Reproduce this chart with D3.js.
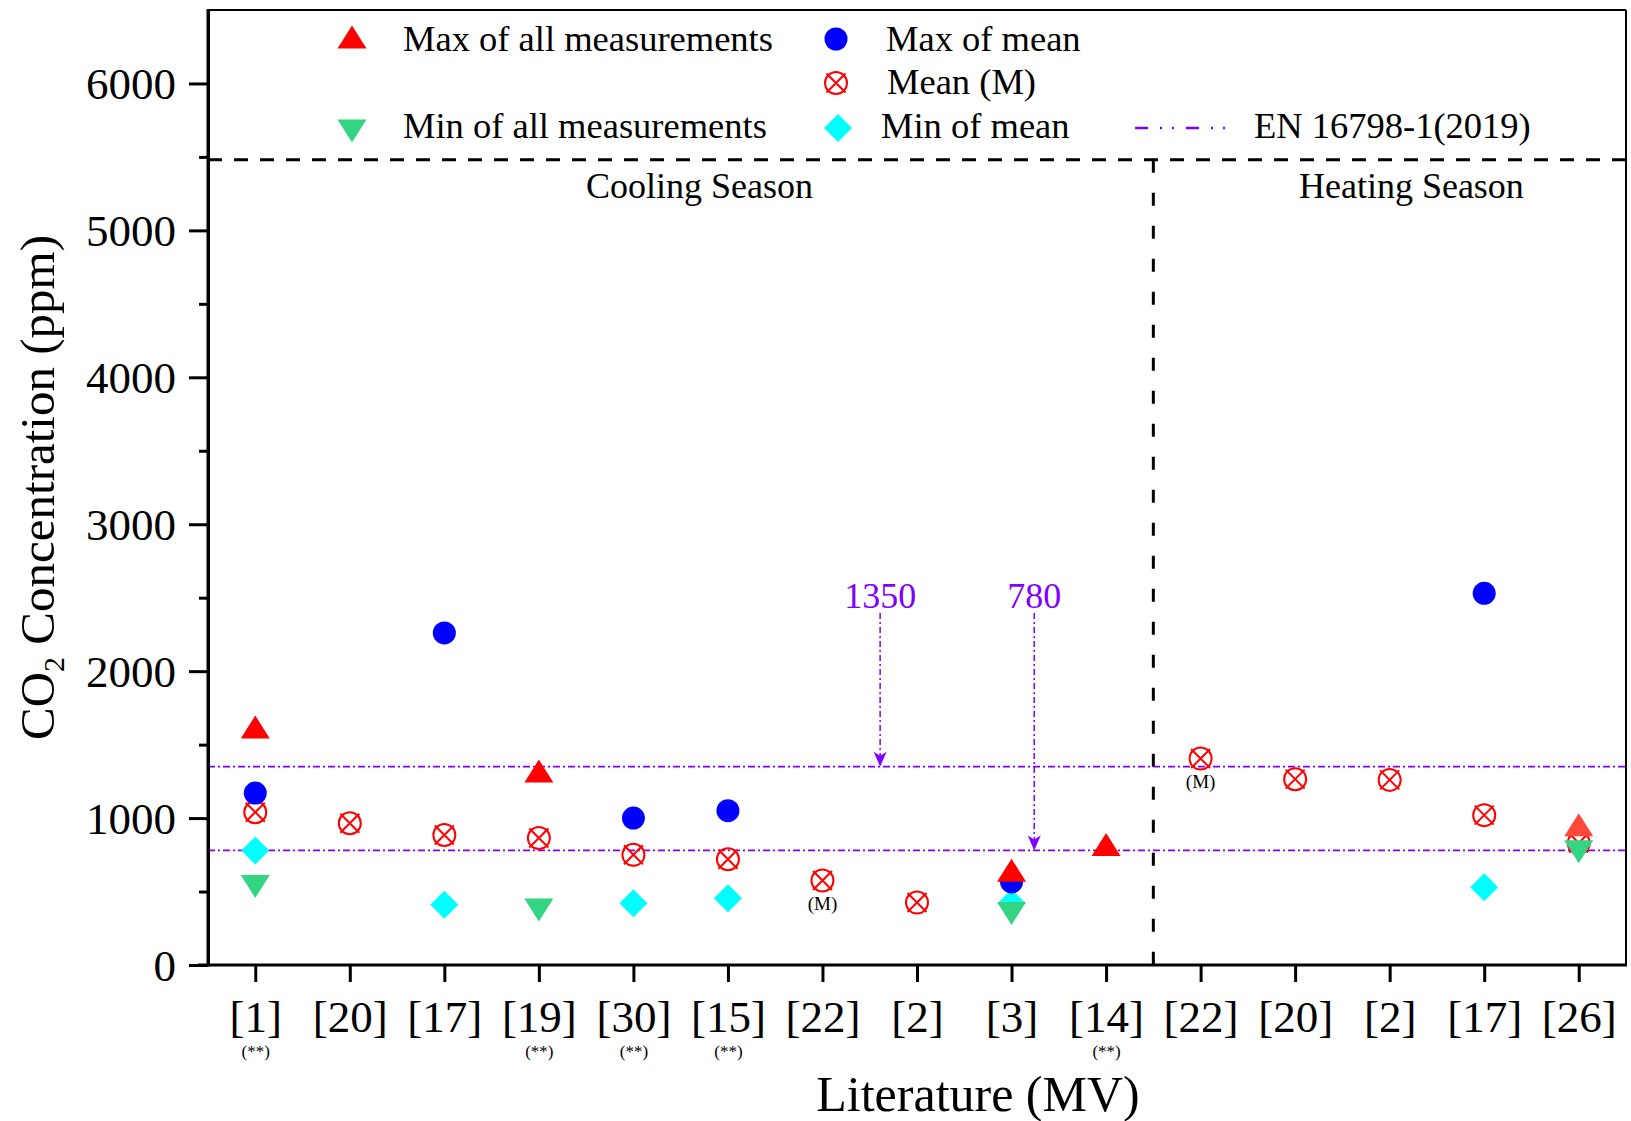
<!DOCTYPE html>
<html>
<head>
<meta charset="utf-8">
<script src="https://cdn.jsdelivr.net/npm/d3@7"></script>
<style>
  body { margin: 0; background: #fff; }
  text { font-family: "Liberation Serif", "Times New Roman", serif; }
</style>
</head>
<body>
<div id="chart"></div>
<script>
"use strict"

// ---- data ----
const categories = ["[1]", "[20]", "[17]", "[19]", "[30]", "[15]", "[22]", "[2]", "[3]", "[14]",
                    "[22]", "[20]", "[2]", "[17]", "[26]"];
const notes = ["(**)", "", "", "(**)", "(**)", "(**)", "", "", "", "(**)", "", "", "", "", ""];
const maxAll  = [1620, null, null, 1320, null, null, null, null, 645, 820, null, null, null, null, 955];
const maxMean = [1170, null, 2260, null, 1000, 1050, null, null, 565, null, null, null, null, 2530, null];
const meanVal = [1040, 965, 885, 864, 750, 720, 575, 425, null, null, 1405, 1265, 1260, 1020, 830];
const minAll  = [535, null, null, 375, null, null, null, null, 350, null, null, null, null, null, 770];
const minMean = [780, null, 410, null, 420, 455, null, null, 420, null, null, null, null, 530, null];
const meanNoteIdx = [6, 10];          // points marked "(M)"
const limits = [1350, 780];           // EN 16798-1(2019)
const limitArrowX = [7.61, 9.24];     // arrow positions on category axis
const seasonSplit = 10.5;
const seasonTop = 5480;
const seasons = [{ name: "Cooling Season", x: 5.7 }, { name: "Heating Season", x: 13.23 }];
const yMajor = [0, 1000, 2000, 3000, 4000, 5000, 6000];
const yMinor = [500, 1500, 2500, 3500, 4500, 5500];

const W = 1631, H = 1121;
const margin = { top: 10, right: 5, bottom: 156, left: 208 };
const purple = "#8000ff";
const serif = '"Liberation Serif", "Times New Roman", serif';

const svg = d3.select("#chart").append("svg")
  .attr("width", W).attr("height", H);

const x = d3.scaleLinear().domain([0.5, 15.5]).range([margin.left, W - margin.right]);
const y = d3.scaleLinear().domain([0, 6500]).range([H - margin.bottom, margin.top]);

// symbols
const triUp = "M-14.5,11.5L14.5,11.5L0,-11.5Z";
const triDown = "M-14.5,-11.5L14.5,-11.5L0,11.5Z";
const diamond = "M0,-14L14,0L0,14L-14,0Z";

function meanSymbol(g) {
  g.append("circle").attr("r", 11).attr("fill", "none").attr("stroke", "red").attr("stroke-width", 2);
  g.append("path").attr("d", "M-9.5,-9.5L9.5,9.5M9.5,-9.5L-9.5,9.5")
    .attr("stroke", "red").attr("stroke-width", 2);
}

// ---- frame ----
svg.append("line").attr("x1", x(0.5)).attr("x2", x(15.5)).attr("y1", y(6500)).attr("y2", y(6500))
  .attr("stroke", "#000").attr("stroke-width", 2);
svg.append("line").attr("x1", x(15.5)).attr("x2", x(15.5)).attr("y1", y(6500)).attr("y2", y(0))
  .attr("stroke", "#000").attr("stroke-width", 2);

// season separators
svg.append("line").attr("x1", x(0.5)).attr("x2", x(15.5)).attr("y1", y(seasonTop)).attr("y2", y(seasonTop))
  .attr("stroke", "#000").attr("stroke-width", 3).attr("stroke-dasharray", "14,12");
svg.append("line").attr("x1", x(seasonSplit)).attr("x2", x(seasonSplit)).attr("y1", y(seasonTop)).attr("y2", y(0))
  .attr("stroke", "#000").attr("stroke-width", 3).attr("stroke-dasharray", "13,20");

svg.selectAll(".season").data(seasons).join("text")
  .attr("class", "season")
  .attr("x", d => x(d.x)).attr("y", y(seasonTop) + 38)
  .attr("text-anchor", "middle").attr("font-size", 36)
  .text(d => d.name);

// limit lines
svg.selectAll(".limit").data(limits).join("line")
  .attr("class", "limit")
  .attr("x1", x(0.5)).attr("x2", x(15.5))
  .attr("y1", d => y(d)).attr("y2", d => y(d))
  .attr("stroke", purple).attr("stroke-width", 1.6).attr("stroke-dasharray", "7,3,2,3");

// arrows with labels
const arrows = svg.selectAll(".arrow").data(limits).join("g").attr("class", "arrow");
arrows.append("text")
  .attr("x", (d, i) => x(limitArrowX[i])).attr("y", 608)
  .attr("text-anchor", "middle").attr("font-size", 36).attr("fill", purple)
  .text(d => d);
arrows.append("line")
  .attr("x1", (d, i) => x(limitArrowX[i])).attr("x2", (d, i) => x(limitArrowX[i]))
  .attr("y1", 613).attr("y2", d => y(d) - 8)
  .attr("stroke", purple).attr("stroke-width", 1.5).attr("stroke-dasharray", "6,3,2,3");
arrows.append("path")
  .attr("transform", (d, i) => `translate(${x(limitArrowX[i])},${y(d)})`)
  .attr("d", "M0,0L-6.5,-15L0,-11L6.5,-15Z")
  .attr("fill", purple);

// ---- axes ----
const gy = svg.append("g").attr("transform", `translate(${margin.left},0)`);
gy.call(d3.axisLeft(y).tickValues(yMinor).tickSize(9).tickSizeOuter(0).tickFormat(""));
gy.selectAll("path,line").attr("stroke", "#000").attr("stroke-width", 3);
const gy2 = svg.append("g").attr("transform", `translate(${margin.left},0)`);
gy2.call(d3.axisLeft(y).tickValues(yMajor).tickSize(19).tickSizeOuter(0).tickPadding(13)
  .tickFormat(d3.format("d")));
gy2.select(".domain").remove();
gy2.selectAll("line").attr("stroke", "#000").attr("stroke-width", 3);
gy2.selectAll("text").attr("font-family", serif).attr("font-size", 45).attr("fill", "#000").attr("dy", "0.34em");
// extend domain to top of frame
svg.append("line").attr("x1", margin.left).attr("x2", margin.left).attr("y1", y(6500) - 1).attr("y2", y(0) + 1.5)
  .attr("stroke", "#000").attr("stroke-width", 3);

const gx = svg.append("g").attr("transform", `translate(0,${y(0)})`);
gx.call(d3.axisBottom(x).tickValues(d3.range(1, 16)).tickSize(17).tickSizeOuter(0)
  .tickFormat(d => categories[d - 1]));
gx.select(".domain").attr("stroke", "#000").attr("stroke-width", 3).attr("d", `M${x(0.5) - 10},0H${x(15.5) + 1}`);
gx.selectAll("line").attr("stroke", "#000").attr("stroke-width", 3);
gx.selectAll("text").attr("font-family", serif).attr("font-size", 45).attr("fill", "#000")
  .attr("y", 67).attr("dy", null);
gx.selectAll(".tick").append("text")
  .attr("y", 92).attr("font-family", serif).attr("font-size", 17).attr("fill", "#000")
  .attr("text-anchor", "middle")
  .text(d => notes[d - 1]);

svg.append("text")
  .attr("x", 978).attr("y", 1111)
  .attr("text-anchor", "middle").attr("font-size", 50)
  .text("Literature (MV)");

const yTitle = svg.append("text")
  .attr("transform", `translate(54,${(y(0) + y(6500)) / 2}) rotate(-90)`)
  .attr("text-anchor", "middle").attr("font-size", 49);
yTitle.append("tspan").text("CO");
yTitle.append("tspan").attr("font-size", 30).attr("dy", 10).text("2");
yTitle.append("tspan").attr("dy", -10).text(" Concentration (ppm)");

// ---- points ----
const idx = d3.range(categories.length);
const plot = svg.append("g");

function pts(values) { return idx.filter(i => values[i] != null); }

// mean (bottom layer)
plot.selectAll(".mean").data(pts(meanVal)).join("g")
  .attr("class", "mean")
  .attr("transform", i => `translate(${x(i + 1)},${y(meanVal[i])})`)
  .each(function () { meanSymbol(d3.select(this)); });

plot.selectAll(".mnote").data(meanNoteIdx).join("text")
  .attr("class", "mnote")
  .attr("x", i => x(i + 1)).attr("y", i => y(meanVal[i]) + 29)
  .attr("text-anchor", "middle").attr("font-size", 19)
  .text("(M)");

plot.selectAll(".minmean").data(pts(minMean)).join("path")
  .attr("class", "minmean")
  .attr("transform", i => `translate(${x(i + 1)},${y(minMean[i])})`)
  .attr("d", diamond).attr("fill", "#00ffff");

plot.selectAll(".minall").data(pts(minAll)).join("path")
  .attr("class", "minall")
  .attr("transform", i => `translate(${x(i + 1)},${y(minAll[i])})`)
  .attr("d", triDown).attr("fill", "#33d482");

plot.selectAll(".maxmean").data(pts(maxMean)).join("circle")
  .attr("class", "maxmean")
  .attr("cx", i => x(i + 1)).attr("cy", i => y(maxMean[i]))
  .attr("r", 11.5).attr("fill", "#0000ff");

plot.selectAll(".maxall").data(pts(maxAll)).join("path")
  .attr("class", "maxall")
  .attr("transform", i => `translate(${x(i + 1)},${y(maxAll[i])})`)
  .attr("d", triUp).attr("fill", i => i === 14 ? "#ff4a3a" : "#ff0000");

// ---- legend ----
const legend = svg.append("g").attr("font-size", 36.5);
legend.append("path").attr("transform", "translate(352,37)").attr("d", triUp).attr("fill", "#ff0000");
legend.append("text").attr("x", 403).attr("y", 51).text("Max of all measurements");
legend.append("circle").attr("cx", 836).attr("cy", 39).attr("r", 11.5).attr("fill", "#0000ff");
legend.append("text").attr("x", 886).attr("y", 51).text("Max of mean");
meanSymbol(legend.append("g").attr("transform", "translate(836,83)"));
legend.append("text").attr("x", 887).attr("y", 94).text("Mean (M)");
legend.append("path").attr("transform", "translate(352,131)").attr("d", triDown).attr("fill", "#33d482");
legend.append("text").attr("x", 403).attr("y", 138).text("Min of all measurements");
legend.append("path").attr("transform", "translate(838,128)").attr("d", diamond).attr("fill", "#00ffff");
legend.append("text").attr("x", 881).attr("y", 138).text("Min of mean");
legend.append("line").attr("x1", 1135).attr("x2", 1228).attr("y1", 128).attr("y2", 128)
  .attr("stroke", purple).attr("stroke-width", 2.5).attr("stroke-dasharray", "13,12,2,10,2,12");
legend.append("text").attr("x", 1254).attr("y", 138).text("EN 16798-1(2019)");
</script>
</body>
</html>
